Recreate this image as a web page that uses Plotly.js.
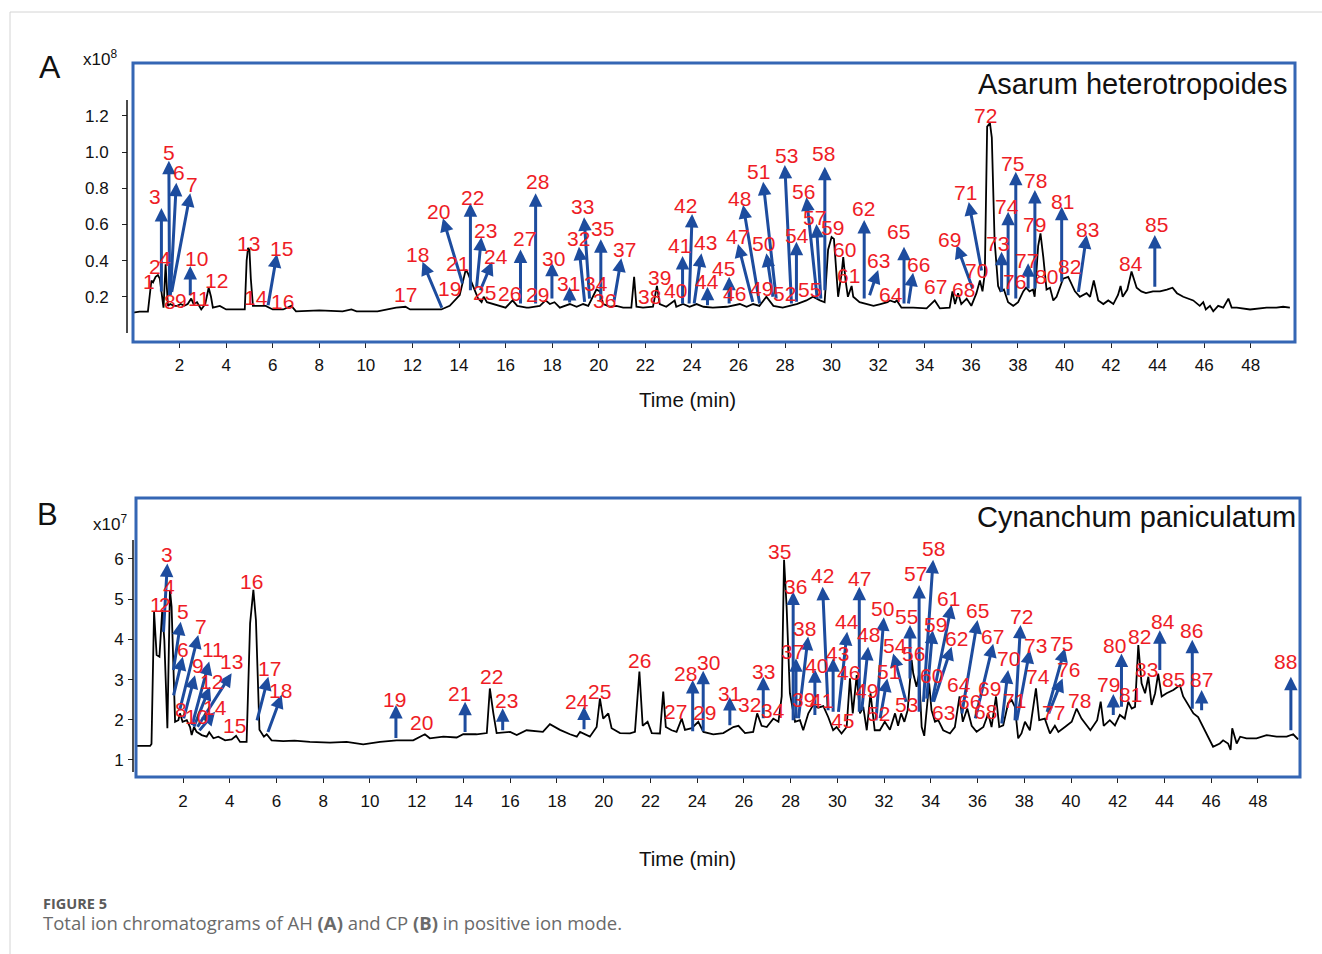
<!DOCTYPE html>
<html>
<head>
<meta charset="utf-8">
<script src="https://cdn.plot.ly/plotly-3.0.1.min.js"></script>
<style>html,body{margin:0;padding:0;background:#fff;}#chart{width:1322px;height:954px;}</style>
</head>
<body>
<div id="chart"></div>
<script>
// ---- Panel A: Asarum heterotropoides (intensity x10^8) ----
const timeA = [
0,0.28,0.64,0.72,0.79,0.86,0.97,1.07,1.15,1.31,
1.37,1.40,1.45,1.50,1.6,1.75,1.9,2.05,2.2,2.35,
2.5,2.6,2.75,2.93,3.1,3.25,3.35,3.43,3.73,4.0,
4.3,4.8,4.88,4.94,5.0,5.06,5.15,5.4,5.7,6.0,
6.45,6.8,7.0,8,9.0,9.38,9.6,10.5,11.3,11.7,
11.9,12.5,13.24,13.6,14.03,14.29,14.38,14.6,14.82,14.97,
15.06,15.2,15.46,15.75,16.0,16.3,16.5,16.9,17.0,17.47,
17.72,17.9,18.1,18.33,18.76,19.05,19.33,19.55,19.76,19.9,
20.05,20.19,20.5,20.76,21.05,21.4,21.52,21.62,21.9,22.33,
22.5,22.62,22.9,23.26,23.33,23.62,23.9,24.2,24.5,24.9,
25.5,25.75,26.06,26.35,26.63,26.9,27.2,27.5,27.9,28.2,
28.5,28.92,29.2,29.5,29.7,29.85,30.0,30.1,30.28,30.43,
30.5,30.6,30.7,30.86,30.93,31.2,31.5,31.8,32.1,32.4,
32.5,32.72,32.8,33.0,33.5,34.08,34.43,34.65,35.07,35.19,
35.3,35.43,35.57,35.8,36.0,36.22,36.37,36.48,36.58,36.68,
36.8,36.88,37.0,37.15,37.25,37.4,37.58,37.8,38.01,38.23,
38.35,38.5,38.65,38.72,38.87,38.97,39.09,39.23,39.38,39.52,
39.66,39.8,39.94,40.16,40.3,40.45,40.66,40.95,41.1,41.26,
41.45,41.67,41.88,42.1,42.3,42.41,42.5,42.7,42.88,43.1,
43.3,43.5,43.8,44.1,44.4,44.64,44.83,45.1,45.53,45.81,
45.96,46.07,46.25,46.39,46.6,46.82,47.04,47.18,47.4,47.97,
48.68,49.1,49.39,49.68];
const intensityA = [
0.112,0.118,0.118,0.2,0.29,0.28,0.31,0.32,0.3,0.14,
0.3,0.38,0.26,0.15,0.16,0.15,0.15,0.16,0.15,0.16,
0.19,0.16,0.17,0.13,0.16,0.25,0.2,0.14,0.15,0.13,
0.13,0.13,0.4,0.47,0.46,0.3,0.15,0.15,0.15,0.13,
0.13,0.15,0.12,0.125,0.12,0.13,0.12,0.12,0.14,0.145,
0.13,0.13,0.13,0.15,0.21,0.35,0.33,0.26,0.19,0.17,
0.2,0.17,0.16,0.15,0.14,0.18,0.15,0.14,0.14,0.15,
0.18,0.16,0.17,0.14,0.16,0.145,0.16,0.15,0.2,0.24,
0.23,0.16,0.145,0.15,0.14,0.14,0.31,0.145,0.14,0.145,
0.26,0.16,0.145,0.18,0.145,0.16,0.145,0.16,0.145,0.14,
0.145,0.15,0.16,0.145,0.16,0.15,0.2,0.15,0.14,0.15,
0.16,0.18,0.2,0.18,0.17,0.46,0.53,0.52,0.2,0.33,
0.42,0.29,0.2,0.26,0.2,0.17,0.16,0.15,0.16,0.17,
0.18,0.17,0.18,0.14,0.14,0.136,0.18,0.136,0.14,0.23,
0.16,0.22,0.16,0.19,0.15,0.22,0.29,0.23,0.33,1.14,
1.16,1.08,0.51,0.26,0.23,0.24,0.17,0.15,0.17,0.23,
0.25,0.23,0.24,0.2,0.48,0.55,0.42,0.24,0.25,0.18,
0.2,0.25,0.3,0.31,0.27,0.23,0.2,0.22,0.2,0.29,
0.18,0.16,0.18,0.16,0.21,0.26,0.2,0.24,0.34,0.25,
0.23,0.22,0.23,0.23,0.24,0.25,0.22,0.2,0.18,0.15,
0.17,0.13,0.15,0.12,0.15,0.14,0.19,0.14,0.14,0.13,
0.14,0.14,0.145,0.14];

// peak label positions [time, intensity], for peaks 1..85
const labelPosA = [
[0.67,0.287],[0.93,0.37],[0.96,0.753],[1.39,0.414],[1.53,0.996],[1.97,0.886],[2.55,0.823],[1.60,0.173],[2.07,0.182],[2.72,0.413],
[2.83,0.192],[3.58,0.289],[4.94,0.492],[5.30,0.197],[6.37,0.468],[6.41,0.173],[11.71,0.215],[12.2,0.431],[13.6,0.247],[13.1,0.67],
[13.93,0.385],[14.6,0.75],[15.15,0.569],[15.6,0.425],[15.1,0.223],[16.18,0.219],[16.82,0.523],[17.39,0.836],[17.39,0.21],[18.04,0.413],
[18.72,0.276],[19.15,0.523],[19.3,0.698],[19.9,0.271],[20.18,0.578],[20.26,0.182],[21.12,0.459],[22.19,0.2],[22.62,0.308],[23.31,0.234],
[23.45,0.481],[23.72,0.702],[24.6,0.499],[24.67,0.283],[25.34,0.354],[25.84,0.219],[25.94,0.532],[26.06,0.744],[26.99,0.247],[27.06,0.492],
[26.84,0.891],[27.99,0.219],[28.06,0.983],[28.52,0.541],[29.06,0.241],[28.78,0.781],[29.28,0.639],[29.64,0.993],[30.06,0.584],[30.57,0.459],
[30.71,0.32],[31.35,0.689],[32.0,0.403],[32.57,0.215],[32.86,0.56],[33.72,0.376],[34.48,0.256],[35.68,0.238],[35.05,0.518],[36.22,0.348],
[35.76,0.779],[36.62,1.199],[37.11,0.492],[37.54,0.698],[37.77,0.934],[37.87,0.283],[38.37,0.399],[38.77,0.841],[38.73,0.597],[39.23,0.311],
[39.92,0.725],[40.2,0.366],[40.98,0.573],[42.84,0.385],[43.96,0.597]];

// arrows [peak, tailTime, tailInt, headTime, headInt]
const arrowsA = [
[3,1.22,0.221,1.22,0.691],[5,1.57,0.2,1.54,0.952],[6,1.6,0.2,1.86,0.83],[7,1.65,0.219,2.46,0.772],
[10,2.46,0.2,2.46,0.37],[15,5.79,0.145,6.18,0.436],[18,13.29,0.131,12.43,0.394],[20,14.17,0.265,13.31,0.634],
[22,14.49,0.228,14.49,0.717],[23,14.75,0.247,14.96,0.529],[24,14.89,0.228,15.43,0.394],[27,16.64,0.155,16.64,0.462],
[28,17.29,0.155,17.29,0.772],[30,17.99,0.182,17.99,0.388],[31,18.75,0.16,18.75,0.254],[32,19.4,0.164,19.15,0.477],
[33,19.61,0.182,19.37,0.639],[35,20.09,0.173,20.09,0.518],[37,20.64,0.164,20.97,0.413],[41,23.6,0.155,23.6,0.425],
[42,23.88,0.155,24.01,0.657],[43,24.09,0.155,24.41,0.44],[44,24.67,0.145,24.67,0.256],[45,25.6,0.155,25.6,0.311],
[47,26.63,0.164,25.98,0.492],[48,26.92,0.155,26.2,0.707],[50,27.49,0.192,27.2,0.44],[51,27.63,0.182,27.06,0.836],
[53,28.28,0.155,27.99,0.928],[54,28.49,0.164,28.49,0.504],[56,29.39,0.182,28.92,0.75],[57,29.54,0.182,29.35,0.602],
[58,29.71,0.228,29.71,0.919],[62,31.4,0.182,31.4,0.624],[63,31.61,0.2,32.0,0.348],[65,33.11,0.155,33.11,0.477],
[66,33.29,0.155,33.5,0.333],[69,36.08,0.238,35.37,0.486],[71,36.45,0.337,35.89,0.724],[73,37.3,0.219,37.3,0.449],
[74,37.58,0.2,37.58,0.67],[75,37.91,0.182,37.91,0.891],[77,38.44,0.238,38.44,0.385],[78,38.73,0.238,38.73,0.79],
[81,39.88,0.275,39.88,0.698],[83,40.59,0.219,40.95,0.541],[85,43.88,0.247,43.88,0.541]];

// ---- Panel B: Cynanchum paniculatum (intensity x10^7) ----
const timeB = [
0.02,0.59,0.65,0.76,0.87,0.99,1.11,1.2,1.33,1.44,
1.51,1.66,1.8,1.87,1.98,2.16,2.3,2.37,2.47,2.58,
2.8,3.01,3.12,3.3,3.51,3.8,4.08,4.27,4.44,4.72,
4.87,5.01,5.12,5.27,5.46,5.58,5.79,6.29,6.77,7.43,
8.29,9.0,9.71,10.43,11.14,11.85,12.35,12.56,13.14,13.71,
13.99,14.56,15.0,15.13,15.28,15.42,16.0,16.28,16.7,17.4,
17.7,18.13,18.56,18.85,18.99,19.41,19.7,19.84,19.98,20.2,
20.34,20.7,21.13,21.34,21.53,21.67,21.88,22.06,22.41,22.55,
22.66,22.91,23.12,23.34,23.48,23.77,24.05,24.27,24.69,25.12,
25.55,25.77,26.05,26.4,26.57,26.76,26.98,27.26,27.48,27.62,
27.72,27.83,27.97,28.19,28.4,28.54,28.76,28.97,29.18,29.4,
29.61,29.82,29.97,30.18,30.4,30.54,30.66,30.83,30.97,31.11,
31.26,31.42,31.6,31.82,32.03,32.25,32.47,32.6,32.73,32.87,
33.01,33.18,33.25,33.39,33.5,33.61,33.72,33.82,33.93,34.03,
34.18,34.32,34.53,34.82,35.03,35.23,35.37,35.56,35.75,35.96,
36.25,36.46,36.6,36.79,36.93,37.1,37.31,37.46,37.6,37.74,
37.88,38.03,38.24,38.5,38.64,38.88,39.1,39.31,39.46,39.74,
40.03,40.24,40.45,40.83,41.12,41.27,41.4,41.66,41.88,42.09,
42.3,42.45,42.6,42.74,42.88,43.02,43.17,43.31,43.45,43.6,
43.73,43.88,44.09,44.38,44.66,44.8,45.02,45.24,45.44,45.65,
45.87,46.08,46.37,46.51,46.72,46.83,46.9,47.09,47.24,47.51,
47.94,48.37,48.8,49.23,49.51,49.72];
const intensityB = [
1.35,1.35,1.4,4.69,3.61,3.57,4.73,3.98,1.79,5.23,
4.81,1.95,1.99,2.16,1.95,1.99,1.82,1.62,1.82,1.7,
1.62,1.58,1.69,1.54,1.58,1.49,1.51,1.6,1.45,1.45,
4.4,5.23,4.48,1.75,1.58,1.64,1.49,1.47,1.48,1.45,
1.43,1.45,1.39,1.45,1.49,1.49,1.64,1.54,1.58,1.56,
1.64,1.64,1.67,2.78,2.16,1.67,1.7,1.62,1.74,1.7,
1.89,1.75,1.64,1.58,1.7,1.58,1.82,2.53,2.03,2.16,
1.79,1.67,1.66,1.7,3.2,1.85,1.95,1.67,1.66,2.7,
1.82,1.74,1.7,2.03,1.75,1.79,1.95,1.7,1.64,1.67,
1.82,1.85,1.67,1.7,2.16,1.85,1.82,2.03,1.95,2.58,
5.98,4.81,2.66,1.95,1.99,1.74,2.16,2.37,2.3,2.34,
2.07,1.74,1.82,1.66,1.82,3.03,2.16,3.11,2.16,2.32,
1.74,2.66,1.74,1.74,1.95,1.75,2.16,1.85,2.16,1.95,
2.24,3.49,3.15,2.82,3.15,1.82,1.6,2.32,2.91,2.24,
1.95,1.99,1.74,1.66,1.82,2.58,1.95,2.28,1.85,1.7,
1.82,2.16,1.82,2.58,1.82,1.86,2.41,2.49,2.32,1.54,
1.66,1.95,1.74,2.78,1.99,2.03,1.66,1.85,1.7,1.82,
1.95,2.28,2.03,1.74,1.99,2.45,1.85,1.99,1.86,2.12,
2.03,2.45,2.28,2.32,3.86,2.91,2.66,3.07,2.37,2.66,
3.15,2.58,2.66,2.74,2.86,2.58,2.37,2.16,2.07,1.82,
1.58,1.33,1.41,1.49,1.41,1.25,1.79,1.41,1.58,1.54,
1.54,1.62,1.58,1.58,1.64,1.51];

const labelPosB = [
[0.84,4.86],[1.23,4.86],[1.33,6.1],[1.41,5.31],[1.99,4.69],[2.01,3.74],[2.77,4.33],[1.9,2.26],[2.65,3.34],[2.58,2.08],
[3.27,3.74],[3.23,2.95],[4.08,3.45],[3.37,2.31],[4.22,1.87],[4.94,5.44],[5.69,3.28],[6.15,2.72],[11.04,2.51],[12.21,1.93],
[13.82,2.66],[15.21,3.07],[15.85,2.49],[18.84,2.45],[19.84,2.7],[21.55,3.47],[23.09,2.2],[23.52,3.16],[24.33,2.18],[24.48,3.42],
[25.37,2.66],[26.26,2.37],[26.83,3.2],[27.26,2.24],[27.54,6.18],[28.19,5.31],[28.09,3.69],[28.61,4.28],[28.54,2.51],[29.11,3.36],
[29.33,2.49],[29.37,5.58],[30.0,3.65],[30.4,4.44],[30.23,1.99],[30.47,3.17],[30.97,5.52],[31.32,4.11],[31.25,2.74],[31.94,4.77],
[32.18,3.2],[31.75,2.16],[32.94,2.37],[32.46,3.86],[32.94,4.56],[33.25,3.65],[33.36,5.64],[34.1,6.27],[34.18,4.36],[34.04,3.11],
[34.75,5.02],[35.08,4.03],[34.53,2.18],[35.22,2.87],[35.99,4.73],[35.67,2.45],[36.65,4.07],[36.32,2.2],[36.53,2.78],[37.31,3.53],
[37.6,2.49],[37.89,4.56],[38.5,3.86],[38.57,3.07],[39.6,3.9],[39.88,3.24],[39.24,2.18],[40.38,2.49],[41.59,2.87],[41.88,3.86],
[42.55,2.64],[42.92,4.07],[43.23,3.24],[43.92,4.44],[44.37,3.01],[45.16,4.23],[45.59,2.99],[49.2,3.45]];

const arrowsB = [
[3,1.16,4.15,1.33,5.89],[5,1.58,3.2,1.9,4.44],[6,1.58,2.57,1.99,3.57],[7,1.84,2.2,2.65,4.11],
[9,2.01,2.0,2.51,3.11],[11,2.37,1.83,3.12,3.45],[12,2.44,1.79,3.15,2.82],[13,2.58,1.79,4.08,3.16],
[14,2.65,1.7,3.37,2.2],[17,5.15,1.95,5.65,3.07],[18,5.61,1.66,6.22,2.62],[19,11.11,1.51,11.11,2.37],
[21,14.07,1.66,14.07,2.45],[23,15.68,1.7,15.68,2.29],[24,19.16,1.73,19.16,2.33],[28,23.81,1.68,23.81,2.99],
[30,24.26,1.68,24.26,3.22],[31,25.4,1.83,25.4,2.57],[33,26.83,2.0,26.83,3.07],[36,28.11,1.95,28.11,5.19],
[37,28.23,2.0,28.23,3.53],[38,28.33,2.0,28.75,4.07],[40,29.04,2.08,29.04,3.26],[42,29.61,2.2,29.37,5.31],
[43,29.82,2.16,29.82,3.53],[44,30.04,2.16,30.42,4.19],[47,30.94,2.16,30.94,5.31],[48,31.04,2.2,31.32,3.82],
[50,31.65,1.95,31.99,4.55],[51,31.82,2.0,32.14,3.03],[54,32.96,2.41,32.39,3.65],[55,33.11,2.99,33.11,4.36],
[57,33.5,2.16,33.5,5.35],[58,33.68,2.41,34.1,5.98],[59,33.82,2.49,34.08,4.23],[61,34.04,2.41,34.89,4.86],
[62,34.1,2.41,34.89,3.82],[65,35.32,2.12,36.0,4.48],[67,35.89,2.0,36.67,3.89],[70,37.03,1.87,37.31,3.24],
[72,37.6,1.95,37.84,4.36],[73,37.67,1.95,38.24,3.74],[75,38.96,2.16,39.74,3.78],[76,39.02,2.12,39.64,3.03],
[79,41.81,2.08,41.81,2.64],[80,42.16,2.29,42.16,3.65],[84,43.8,3.2,43.8,4.23],[86,45.19,2.24,45.19,3.99],
[87,45.59,2.2,45.59,2.74],[88,49.41,1.7,49.41,3.07]];

const xTicks = [2,4,6,8,10,12,14,16,18,20,22,24,26,28,30,32,34,36,38,40,42,44,46,48];
const yTicksA = [0.2,0.4,0.6,0.8,1.0,1.2];
const yTicksB = [1,2,3,4,5,6];

// ---- drawing ----
const W = 1322, H = 954;
const px = v => v / W;
const py = v => 1 - v / H;
const FONT = 'Liberation Sans, Arial, sans-serif';
const RED = '#ee1c25', ARROW = '#1d4c9e', BOX = '#3566b4';

function labelAnns(pos, xr, yr) {
  return pos.map((p, i) => ({
    x: p[0], y: p[1], xref: xr, yref: yr, text: String(i + 1), showarrow: false,
    xanchor: 'center', yanchor: 'middle',
    font: {family: FONT, size: 21, color: RED}
  }));
}
function arrowAnns(list, xr, yr) {
  return list.map(a => ({
    x: a[3], y: a[4], ax: a[1], ay: a[2], xref: xr, yref: yr, axref: xr, ayref: yr,
    text: '', showarrow: true, arrowhead: 2, arrowsize: 0.9, arrowwidth: 3,
    arrowcolor: ARROW, standoff: 0, startstandoff: 0
  }));
}
function paperText(x, y, text, size, opts) {
  return Object.assign({xref: 'paper', yref: 'paper', x: px(x), y: py(y), xanchor: 'center', yanchor: 'middle',
    showarrow: false, text: text, font: {family: FONT, size: size, color: '#111'}}, opts || {});
}

const traces = [
  {x: timeA, y: intensityA, xaxis: 'x', yaxis: 'y', mode: 'lines', line: {color: '#000', width: 1.8}, hoverinfo: 'skip'},
  {x: timeB, y: intensityB, xaxis: 'x2', yaxis: 'y2', mode: 'lines', line: {color: '#000', width: 1.8}, hoverinfo: 'skip'}
];

const axisCommon = {
  ticks: 'outside', ticklen: 5, tickwidth: 1, tickcolor: '#222',
  showgrid: false, zeroline: false, tickfont: {family: FONT, size: 17, color: '#111'}
};

const annotations = [].concat(
  arrowAnns(arrowsA, 'x', 'y'), labelAnns(labelPosA, 'x', 'y'),
  arrowAnns(arrowsB, 'x2', 'y2'), labelAnns(labelPosB, 'x2', 'y2'),
  [
    paperText(1290, 84, 'Asarum heterotropoides', 29, {xanchor: 'right'}),
    paperText(1298, 517, 'Cynanchum paniculatum', 29, {xanchor: 'right'}),
    paperText(687, 399, 'Time (min)', 20.5),
    paperText(687, 858, 'Time (min)', 20.5),
    paperText(50, 67, 'A', 32),
    paperText(47, 514, 'B', 31),
    paperText(81, 58, 'x10<sup>8</sup>', 17, {xanchor: 'left'}),
    paperText(91, 523, 'x10<sup>7</sup>', 17, {xanchor: 'left'}),
    paperText(41, 903, '<b>FIGURE 5</b>', 14.5, {xanchor: 'left', font: {family: 'Open Sans, sans-serif', size: 14.5, color: '#5a5a5a'}}),
    paperText(41, 922, 'Total ion chromatograms of AH <b>(A)</b> and CP <b>(B)</b> in positive ion mode.', 18.5,
      {xanchor: 'left', font: {family: 'Open Sans, sans-serif', size: 18.5, color: '#6a6a6a'}})
  ]
);

const shapes = [
  {type: 'line', xref: 'paper', yref: 'paper', x0: px(10), x1: 1, y0: py(12), y1: py(12), line: {color: '#d4d4d4', width: 1}},
  {type: 'line', xref: 'paper', yref: 'paper', x0: px(10), x1: px(10), y0: py(12), y1: 0, line: {color: '#d4d4d4', width: 1}},
  {type: 'rect', xref: 'paper', yref: 'paper', x0: px(133), x1: px(1295), y0: py(342), y1: py(63), line: {color: BOX, width: 3}, layer: 'above'},
  {type: 'rect', xref: 'paper', yref: 'paper', x0: px(136), x1: px(1300), y0: py(777), y1: py(498), line: {color: BOX, width: 3}, layer: 'above'},
  {type: 'line', xref: 'paper', yref: 'y', x0: px(127), x1: px(127), y0: 0, y1: 1.287, line: {color: '#111', width: 1.5}},
  {type: 'line', xref: 'paper', yref: 'y2', x0: px(133), x1: px(133), y0: 0.70, y1: 6.47, line: {color: '#111', width: 1.5}}
];

const layout = {
  width: W, height: H, margin: {l: 0, r: 0, t: 0, b: 0},
  paper_bgcolor: '#fff', plot_bgcolor: 'rgba(0,0,0,0)', showlegend: false,
  font: {family: FONT, color: '#111'},
  xaxis: Object.assign({}, axisCommon, {domain: [px(133), px(1295)], range: [0, 49.9], anchor: 'y',
    tickvals: xTicks, showline: true, linecolor: '#222', linewidth: 1, ticklabelstandoff: 3}),
  yaxis: Object.assign({}, axisCommon, {domain: [py(342), py(63)], range: [-0.0497, 1.4917], anchor: 'free',
    position: px(127), tickvals: yTicksA, tickformat: '.1f', showline: false, ticklabelstandoff: 10}),
  xaxis2: Object.assign({}, axisCommon, {domain: [px(136), px(1300)], range: [-0.013, 49.8], anchor: 'y2',
    tickvals: xTicks, showline: true, linecolor: '#222', linewidth: 1, ticklabelstandoff: 4}),
  yaxis2: Object.assign({}, axisCommon, {domain: [py(777), py(498)], range: [0.577, 7.517], anchor: 'free',
    position: px(133), tickvals: yTicksB, showline: false, ticklabelstandoff: 1}),
  annotations: annotations,
  shapes: shapes
};

Plotly.newPlot('chart', traces, layout, {displayModeBar: false, staticPlot: true});
</script>
</body>
</html>
